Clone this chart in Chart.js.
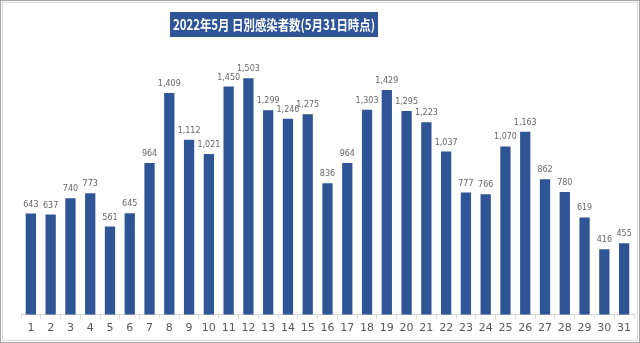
<!DOCTYPE html>
<html>
<head>
<meta charset="utf-8">
<script src="https://cdn.jsdelivr.net/npm/chart.js@4"></script>
<style>
  html, body { margin: 0; padding: 0; background: #fff; }
  #wrap { position: relative; width: 640px; height: 343px; }
</style>
</head>
<body>
<div id="wrap"><canvas id="c" width="640" height="343"></canvas></div>
<script>
const titleText = '2022年5月 日別感染者数(5月31日時点)';
const days = [];
for (let i = 1; i <= 31; i++) days.push(String(i));
const cases = [643, 637, 740, 773, 561, 645, 964, 1409, 1112, 1021, 1450, 1503, 1299, 1246, 1275,
               836, 964, 1303, 1429, 1295, 1223, 1037, 777, 766, 1070, 1163, 862, 780, 619, 416, 455];

const barColor = '#2F5597';

// frame + title box + value labels
const decor = {
    id: 'decor',
    beforeDraw(chart) {
        const ctx = chart.ctx;
        ctx.save();
        ctx.fillStyle = '#fff';
        ctx.fillRect(0, 0, chart.width, chart.height);
        ctx.strokeStyle = '#a6a6a6';
        ctx.lineWidth = 1;
        ctx.strokeRect(0.5, 0.5, chart.width - 1, chart.height - 1);
        ctx.strokeStyle = '#d9d9d9';
        ctx.strokeRect(2.5, 2.5, chart.width - 5, chart.height - 5);

        // title box (text squeezed to the box width)
        ctx.fillStyle = barColor;
        ctx.fillRect(170, 12, 208, 25);
        ctx.font = 'bold 14px "Noto Sans CJK JP", "Noto Sans", sans-serif';
        ctx.fillStyle = '#fff';
        ctx.textAlign = 'center';
        ctx.textBaseline = 'middle';
        ctx.fillText(titleText, 274, 25, 202);
        ctx.restore();
    },
    afterDatasetsDraw(chart) {
        const ctx = chart.ctx;
        const meta = chart.getDatasetMeta(0);
        ctx.save();
        ctx.font = '8px "DejaVu Sans", sans-serif';
        ctx.fillStyle = '#666';
        ctx.textAlign = 'center';
        ctx.textBaseline = 'bottom';
        meta.data.forEach((bar, i) => {
            ctx.fillText(cases[i].toLocaleString('en-US'), bar.x, bar.y - 5);
        });
        ctx.restore();
    }
};

new Chart(document.getElementById('c'), {
    type: 'bar',
    data: {
        labels: days,
        datasets: [{
            data: cases,
            backgroundColor: barColor,
            categoryPercentage: 1,
            barPercentage: 0.52
        }]
    },
    options: {
        responsive: false,
        animation: false,
        layout: { padding: { left: 21, right: 6, top: 63, bottom: 5 } },
        plugins: { legend: { display: false }, tooltip: { enabled: false } },
        scales: {
            x: {
                grid: { drawOnChartArea: false, drawTicks: true, tickLength: 4, color: '#d9d9d9', offset: true },
                border: { color: '#d9d9d9' },
                ticks: { color: '#595959', font: { size: 11, family: '"DejaVu Sans", sans-serif' }, padding: 3, maxRotation: 0, autoSkip: false }
            },
            y: {
                display: false,
                min: 0,
                max: 1600
            }
        }
    },
    plugins: [decor]
});
</script>
</body>
</html>
